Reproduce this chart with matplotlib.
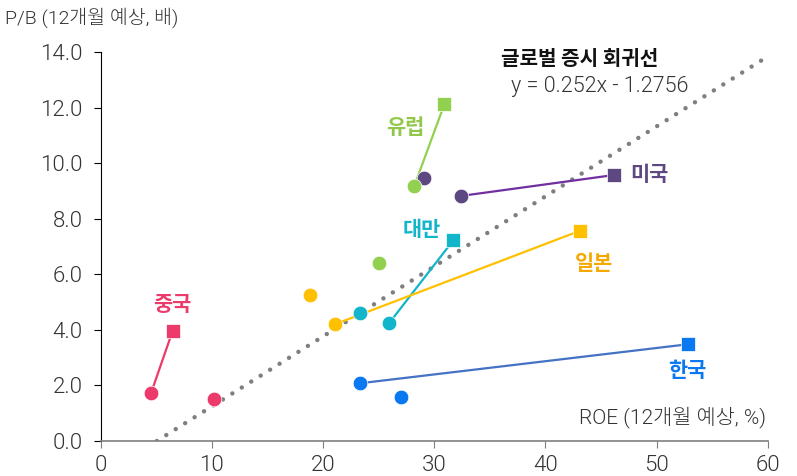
import matplotlib
matplotlib.use("Agg")
import matplotlib.pyplot as plt
import numpy as np

plt.rcParams['font.family'] = ['Roboto', 'Noto Sans CJK JP', 'DejaVu Sans']
plt.rcParams['font.weight'] = 300

countries = ["중국", "한국", "대만", "일본", "유럽", "미국"]
colors = ["#EC3B6A", "#0A78F0", "#13B5CB", "#FFC000", "#92D050", "#5E4882"]
label_colors = ["#EC3B6A", "#0A78F0", "#13B5CB", "#F5A800", "#92C84A", "#5E4882"]
line_colors = ["#EC3B6A", "#4472C4", "#13B5CB", "#FFC000", "#92D050", "#7030A0"]
# start (circle) -> end (square)
roe_start = [4.54, 23.36, 25.94, 21.06, 28.22, 32.42]
pb_start = [1.72, 2.08, 4.24, 4.20, 9.19, 8.82]
roe_end = [6.49, 52.77, 31.73, 43.06, 30.92, 46.12]
pb_end = [3.97, 3.48, 7.23, 7.56, 12.13, 9.57]
# extra unconnected circles
roe_extra = [10.23, 27.05, 23.36, 18.87, 25.0, 29.12]
pb_extra = [1.51, 1.58, 4.60, 5.26, 6.42, 9.45]
# label positions
label_x = [6.44, 52.7, 28.9, 44.4, 27.4, 47.6]
label_y = [4.9, 2.55, 7.6, 6.4, 11.3, 9.6]

slope, intercept = 0.252, -1.2756

fig = plt.figure(figsize=(7.97, 4.76), dpi=100)
ax = fig.add_axes([0.1261, 0.0735, 0.9636 - 0.1261, 0.8908 - 0.0735])
ax.set_xlim(0, 60)
ax.set_ylim(0, 14)

# regression line
xr = np.array([-intercept / slope, 60])
ax.plot(xr, slope * xr + intercept, color="#7F7F7F", lw=3.2,
        linestyle=(0, (0.01, 2.5)), dash_capstyle="round", zorder=1)

for i, c in enumerate(countries):
    ax.plot([roe_start[i], roe_end[i]], [pb_start[i], pb_end[i]],
            color=line_colors[i], lw=1.6, zorder=2)
    ax.plot(roe_extra[i], pb_extra[i], 'o', color=colors[i], ms=10.5,
            mec='white', mew=0.5, zorder=3)
    ax.plot(roe_start[i], pb_start[i], 'o', color=colors[i], ms=10.5,
            mec='white', mew=0.5, zorder=4)
    ax.plot(roe_end[i], pb_end[i], 's', color=colors[i], ms=9.5,
            mec='white', mew=0.5, zorder=4)
    ha = 'left' if c == "미국" else 'center'
    ax.text(label_x[i], label_y[i], c, color=label_colors[i],
            fontsize=15, fontweight=700, ha=ha, va='center',
            family=['Noto Sans CJK JP'])

ax.text(43.1, 13.77, "글로벌 증시 회귀선", fontsize=14.5, fontweight=700,
        ha='center', va='center', color='#111111', family=['Noto Sans CJK JP'])
ax.text(44.9, 12.74, "y = 0.252x - 1.2756", fontsize=15.5, ha='center',
        va='center', color='#333333')
ax.text(59.8, 0.86, "ROE (12개월 예상, %)", fontsize=15, ha='right',
        va='center', color='#333333')
fig.text(0.006, 0.962, "P/B (12개월 예상, 배)", fontsize=14, ha='left',
         va='center', color='#333333')

ax.set_xticks(np.arange(0, 61, 10))
ax.set_yticks(np.arange(0, 14.1, 2))
ax.set_yticklabels([f"{v:.1f}" for v in np.arange(0, 14.1, 2)])
ax.tick_params(axis='both', labelsize=16, labelcolor='#333333', length=5,
               direction='out')
ax.tick_params(axis='x', color='#7F7F7F', pad=5)
ax.tick_params(axis='y', color='black', pad=8)
for s in ['top', 'right']:
    ax.spines[s].set_visible(False)
ax.spines['left'].set_color('black')
ax.spines['bottom'].set_color('#7F7F7F')
ax.spines['bottom'].set_linewidth(1.2)

fig.savefig("out.png", dpi=100)
